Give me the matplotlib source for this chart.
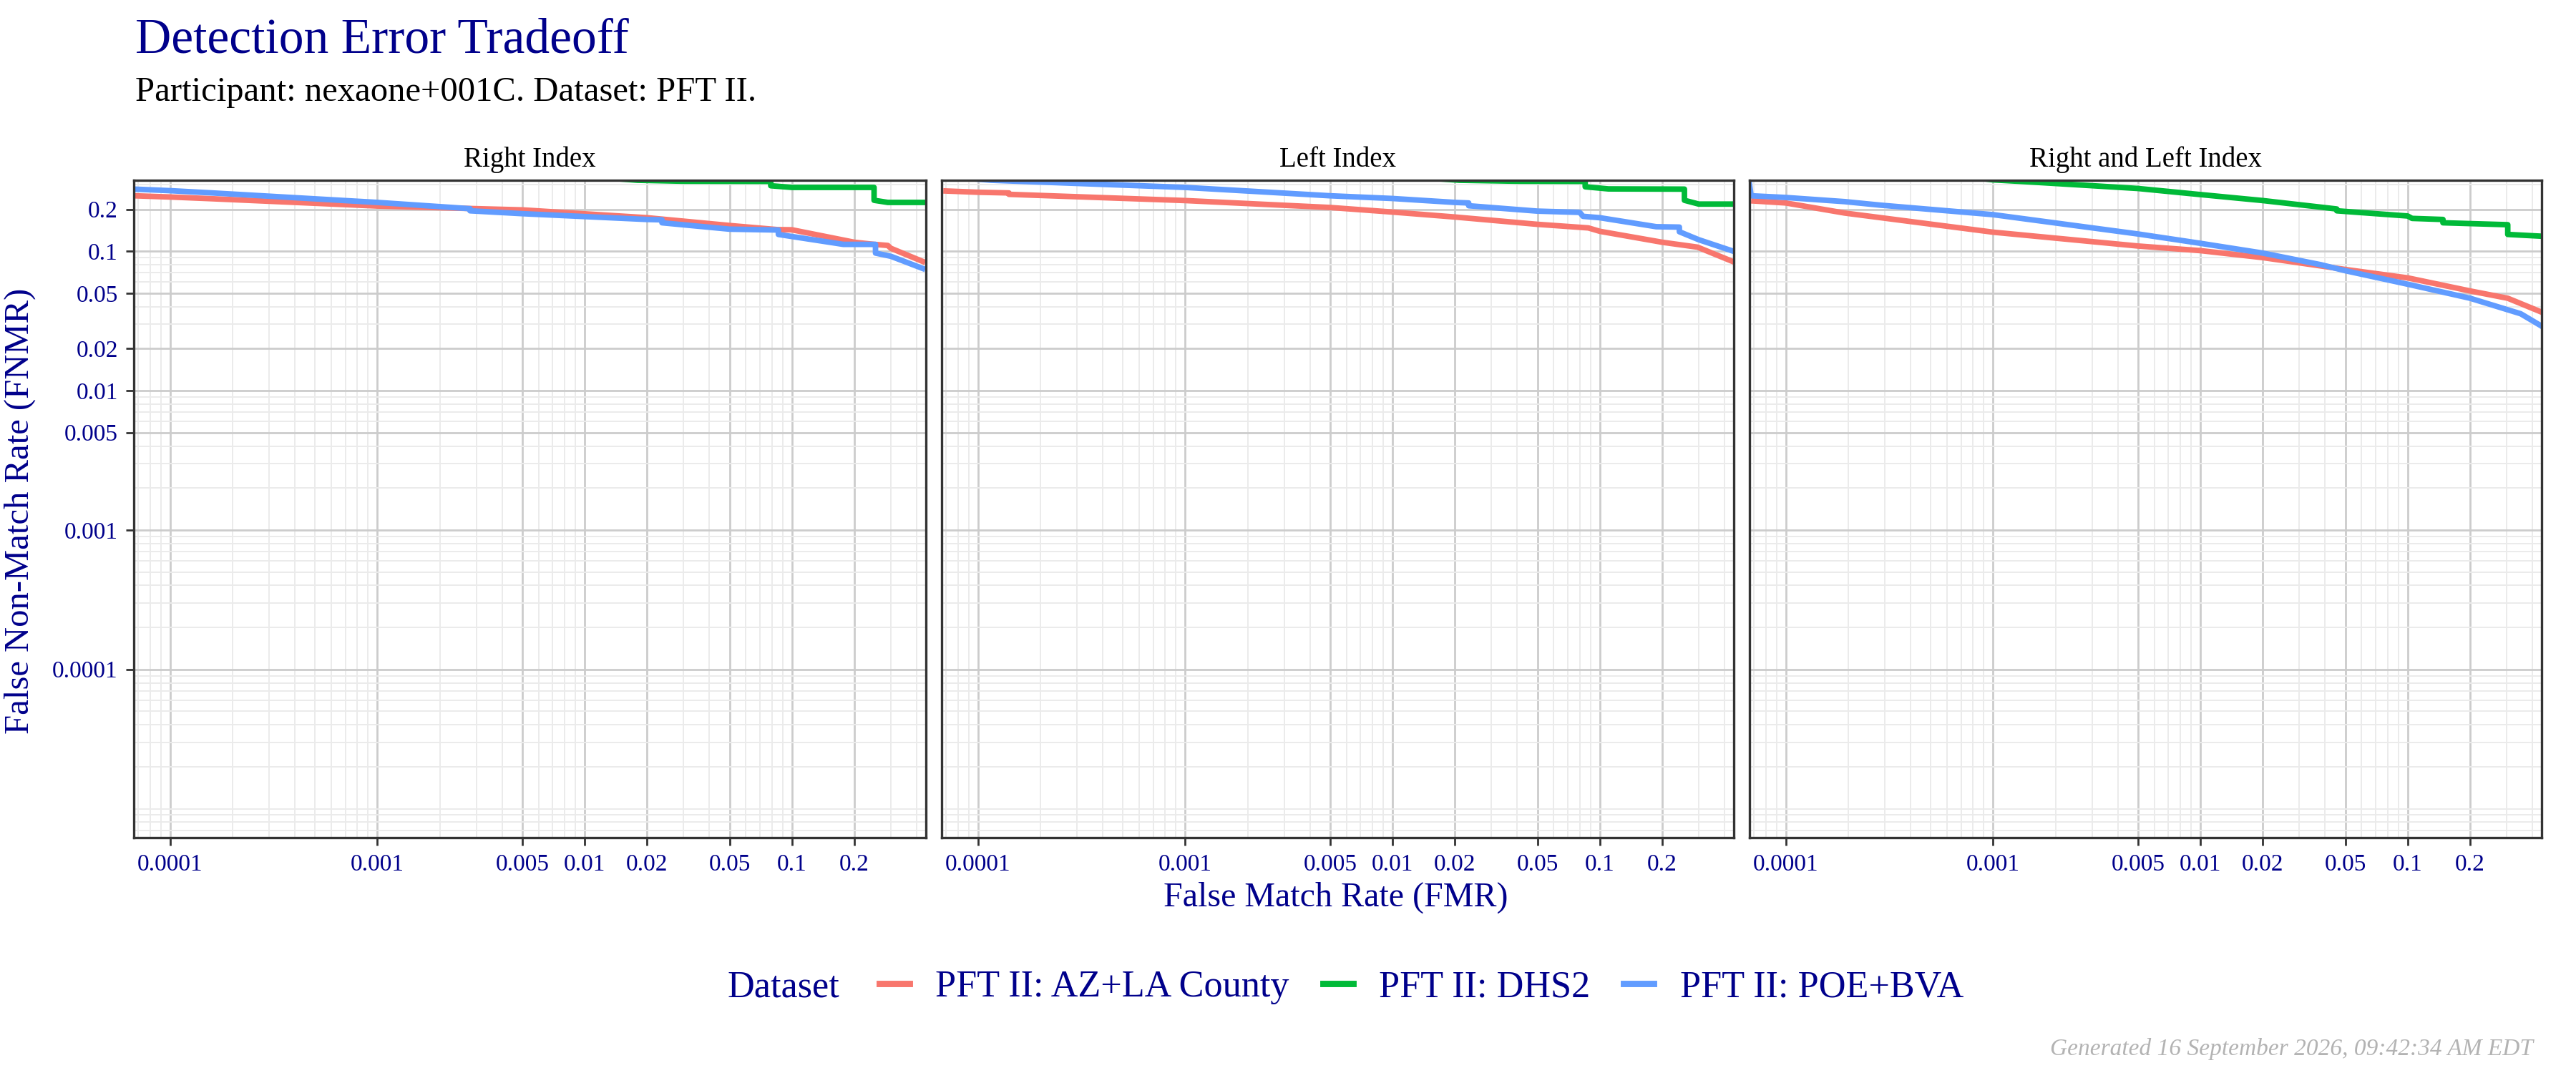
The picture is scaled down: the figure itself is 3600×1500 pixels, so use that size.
import matplotlib
matplotlib.use("Agg")
import matplotlib.pyplot as plt
from matplotlib.ticker import NullFormatter
import numpy as np

plt.rcParams['font.family'] = ['Liberation Serif', 'DejaVu Serif']

# Data (FMR, FNMR) per panel and dataset
panels = ["Right Index", "Left Index", "Right and Left Index"]
datasets = ["PFT II: AZ+LA County", "PFT II: DHS2", "PFT II: POE+BVA"]
colors = ["#F8766D", "#00BA38", "#619CFF"]

# Right Index
right_az_fmr = [6.7e-5, 1e-4, 1.6e-4, 0.001, 0.005, 0.02, 0.05, 0.085, 0.1, 0.2, 0.25, 0.29, 0.3, 0.44]
right_az_fnmr = [0.250, 0.245, 0.238, 0.211, 0.198, 0.174, 0.153, 0.143, 0.1425, 0.116, 0.112, 0.110, 0.105, 0.083]
right_dhs_fmr = [1e-4, 0.001, 0.018, 0.03, 0.079, 0.079, 0.1, 0.249, 0.249, 0.29, 0.44]
right_dhs_fnmr = [0.60, 0.45, 0.323, 0.318, 0.317, 0.295, 0.287, 0.287, 0.232, 0.224, 0.224]
right_poe_fmr = [6.7e-5, 1e-4, 1.6e-4, 0.001, 0.0028, 0.0028, 0.005, 0.02, 0.0236, 0.0236, 0.05,
                 0.086, 0.086, 0.177, 0.253, 0.253, 0.3, 0.44]
right_poe_fnmr = [0.279, 0.272, 0.262, 0.224, 0.202, 0.195, 0.186, 0.169, 0.168, 0.160, 0.144,
                  0.142, 0.132, 0.112, 0.112, 0.097, 0.092, 0.074]

# Left Index
left_az_fmr = [6.8e-5, 1e-4, 1.41e-4, 1.41e-4, 0.001, 0.005, 0.01, 0.02, 0.05, 0.088, 0.1, 0.2, 0.296, 0.45]
left_az_fnmr = [0.271, 0.265, 0.262, 0.256, 0.231, 0.206, 0.191, 0.176, 0.156, 0.147, 0.139, 0.116, 0.107, 0.083]
left_dhs_fmr = [1e-4, 0.001, 0.021, 0.04, 0.085, 0.085, 0.11, 0.256, 0.256, 0.3, 0.45]
left_dhs_fnmr = [0.60, 0.45, 0.323, 0.318, 0.317, 0.290, 0.280, 0.279, 0.232, 0.218, 0.218]
left_poe_fmr = [6.8e-5, 1.16e-4, 0.001, 0.005, 0.01, 0.02, 0.0233, 0.0233, 0.05, 0.08, 0.083,
                0.1, 0.187, 0.242, 0.242, 0.3, 0.45]
left_poe_fnmr = [0.345, 0.323, 0.287, 0.250, 0.239, 0.224, 0.222, 0.212, 0.194, 0.190, 0.178,
                 0.174, 0.150, 0.149, 0.138, 0.121, 0.099]

# Right and Left Index
both_az_fmr = [6.8e-5, 1e-4, 1.92e-4, 0.001, 0.005, 0.01, 0.02, 0.05, 0.1, 0.2, 0.304, 0.45]
both_az_fnmr = [0.230, 0.222, 0.188, 0.137, 0.109, 0.101, 0.090, 0.074, 0.0644, 0.0519, 0.046, 0.0362]
both_dhs_fmr = [1e-4, 0.001, 0.00136, 0.005, 0.01, 0.02, 0.0455, 0.0455, 0.1, 0.105, 0.148, 0.148,
                0.304, 0.304, 0.45]
both_dhs_fnmr = [0.50, 0.325, 0.317, 0.282, 0.255, 0.231, 0.201, 0.195, 0.179, 0.172, 0.169, 0.160,
                 0.155, 0.132, 0.128]
both_poe_fmr = [6.5e-5, 6.8e-5, 1e-4, 1.92e-4, 2.87e-4, 0.001, 0.005, 0.01, 0.02, 0.0382, 0.05,
                0.1, 0.2, 0.351, 0.45]
both_poe_fnmr = [0.40, 0.250, 0.243, 0.227, 0.214, 0.183, 0.133, 0.114, 0.097, 0.080, 0.0725,
                 0.058, 0.046, 0.0356, 0.0286]

curves = [
    [(right_az_fmr, right_az_fnmr), (right_dhs_fmr, right_dhs_fnmr), (right_poe_fmr, right_poe_fnmr)],
    [(left_az_fmr, left_az_fnmr), (left_dhs_fmr, left_dhs_fnmr), (left_poe_fmr, left_poe_fnmr)],
    [(both_az_fmr, both_az_fnmr), (both_dhs_fmr, both_dhs_fnmr), (both_poe_fmr, both_poe_fnmr)],
]

x_breaks = [0.0001, 0.001, 0.005, 0.01, 0.02, 0.05, 0.1, 0.2]
x_labels = ["0.0001", "0.001", "0.005", "0.01", "0.02", "0.05", "0.1", "0.2"]
y_breaks = [0.0001, 0.001, 0.005, 0.01, 0.02, 0.05, 0.1, 0.2]
y_labels = ["0.0001", "0.001", "0.005", "0.01", "0.02", "0.05", "0.1", "0.2"]

navy = "#00008B"
W, H = 3600, 1500
fig = plt.figure(figsize=(18, 7.5), dpi=200)

minor_vals = [k * 10.0 ** e for e in range(-7, 1) for k in range(1, 10)]

panel_left = [187, 1316, 2445]
panel_w = 1107
top_px, bot_px = 252, 1171
axes = []
for i, name in enumerate(panels):
    ax = fig.add_axes([panel_left[i] / W, 1 - bot_px / H, panel_w / W, (bot_px - top_px) / H])
    axes.append(ax)
    ax.set_xscale("log")
    ax.set_yscale("log")

    ax.set_xticks([v for v in minor_vals if not any(np.isclose(v, b) for b in x_breaks)], minor=True)
    ax.set_yticks([v for v in minor_vals if not any(np.isclose(v, b) for b in y_breaks)], minor=True)
    ax.xaxis.set_minor_formatter(NullFormatter())
    ax.yaxis.set_minor_formatter(NullFormatter())
    ax.set_xticks(x_breaks)
    ax.set_xticklabels(x_labels)
    ax.set_yticks(y_breaks)
    ax.set_yticklabels(y_labels)
    ax.set_xlim(6.68e-5, 0.443)
    ax.set_ylim(6.2e-6, 0.323)

    ax.grid(which="major", color="#CCCCCC", lw=1.0)
    ax.grid(which="minor", color="#EBEBEB", lw=0.7)
    ax.set_axisbelow(True)
    ax.tick_params(which="minor", length=0)
    ax.tick_params(which="major", length=4, width=1.0, color="#333333",
                   labelcolor=navy, labelsize=12, pad=4)
    if i > 0:
        ax.tick_params(axis="y", length=0, labelleft=False)
    for s in ax.spines.values():
        s.set_color("#333333")
        s.set_linewidth(1.2)

    for j, (fx, fy) in enumerate(curves[i]):
        ax.plot(fx, fy, color=colors[j], lw=2.8, solid_capstyle="butt")

    ax.set_title(name, fontsize=14, color="black", pad=7)

fig.text(189 / W, 1 - 57 / H, "Detection Error Tradeoff", color=navy, fontsize=25,
         ha="left", va="center")
fig.text(189 / W, 1 - 129 / H, "Participant: nexaone+001C. Dataset: PFT II.", color="black",
         fontsize=17.5, ha="left", va="center")
fig.text(28 / W, 1 - 714 / H, "False Non-Match Rate (FNMR)", color=navy, fontsize=17.5,
         rotation=90, ha="center", va="center")
fig.text(1867 / W, 1 - 1255 / H, "False Match Rate (FMR)", color=navy, fontsize=17.3,
         ha="center", va="center")
fig.text(3540 / W, 1 - 1467 / H, "Generated 16 September 2026, 09:42:34 AM EDT", color="#B3B3B3",
         fontsize=12, style="italic", ha="right", va="center")

handles = [plt.Line2D([], [], color=c, lw=3.2) for c in colors]
leg = fig.legend(handles, datasets, ncol=3, loc="center left", bbox_to_anchor=(0.34, 1 - 1380 / H),
                 frameon=False, fontsize=18.8, handlelength=0.8, handletextpad=0.7,
                 columnspacing=0.9, borderpad=0, labelcolor=navy)
lab = fig.text(0.34, 1 - 1380 / H, "Dataset", color=navy, fontsize=18.8, ha="right", va="center")

# center legend + title under the panels
fig.canvas.draw()
r = fig.canvas.get_renderer()
lb = leg.get_window_extent(r)
tb = lab.get_window_extent(r)
gap = 30
total = lb.width + gap + tb.width
x0 = 1867 - total / 2
lab.set_position(((x0 + tb.width) / W, 1 - 1380 / H))
leg.set_bbox_to_anchor(((x0 + tb.width + gap) / W, 1 - 1380 / H), transform=fig.transFigure)

fig.savefig("out.png", dpi=200)
